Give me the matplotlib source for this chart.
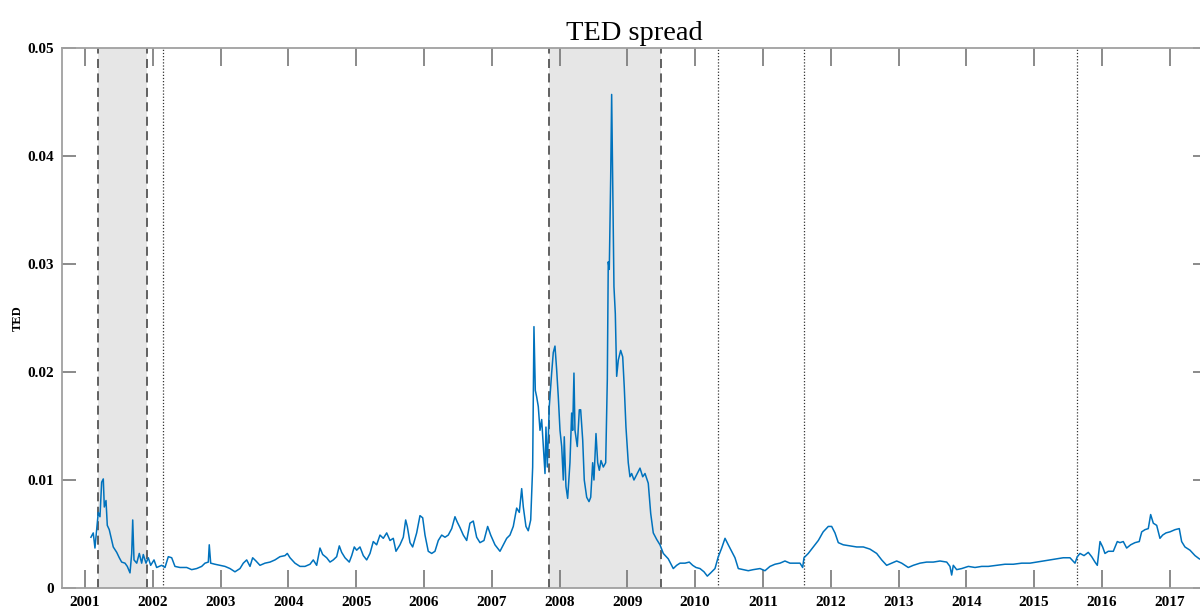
import matplotlib
matplotlib.use("Agg")
import matplotlib.pyplot as plt

# TED spread (decimal year, value)
years = [
    2001.088, 2001.122, 2001.147, 2001.173, 2001.196, 2001.221, 2001.246, 2001.270, 2001.285, 2001.310,
    2001.329, 2001.358, 2001.394, 2001.417, 2001.468, 2001.506, 2001.541, 2001.590, 2001.624, 2001.664,
    2001.689, 2001.704, 2001.723, 2001.763, 2001.801, 2001.836, 2001.860, 2001.900, 2001.934, 2001.969,
    2002.018, 2002.057, 2002.131, 2002.180, 2002.229, 2002.279, 2002.327, 2002.401, 2002.500, 2002.574,
    2002.647, 2002.721, 2002.770, 2002.819, 2002.833, 2002.854, 2002.917, 2002.991, 2003.065, 2003.139,
    2003.212, 2003.286, 2003.335, 2003.385, 2003.434, 2003.473, 2003.522, 2003.581, 2003.655, 2003.729,
    2003.802, 2003.876, 2003.950, 2003.984, 2004.024, 2004.097, 2004.171, 2004.245, 2004.319, 2004.367,
    2004.417, 2004.466, 2004.506, 2004.565, 2004.614, 2004.662, 2004.712, 2004.751, 2004.786, 2004.835,
    2004.898, 2004.934, 2004.972, 2005.007, 2005.056, 2005.105, 2005.155, 2005.204, 2005.252, 2005.302,
    2005.351, 2005.400, 2005.450, 2005.499, 2005.547, 2005.587, 2005.646, 2005.695, 2005.730, 2005.754,
    2005.794, 2005.833, 2005.892, 2005.941, 2005.981, 2006.015, 2006.063, 2006.114, 2006.162, 2006.211,
    2006.261, 2006.310, 2006.358, 2006.409, 2006.457, 2006.491, 2006.531, 2006.580, 2006.630, 2006.678,
    2006.727, 2006.777, 2006.826, 2006.885, 2006.939, 2006.984, 2007.047, 2007.121, 2007.170, 2007.220,
    2007.268, 2007.317, 2007.367, 2007.406, 2007.441, 2007.465, 2007.504, 2007.538, 2007.574, 2007.603,
    2007.622, 2007.642, 2007.662, 2007.686, 2007.711, 2007.736, 2007.760, 2007.785, 2007.799, 2007.819,
    2007.848, 2007.883, 2007.907, 2007.932, 2007.957, 2007.981, 2008.006, 2008.031, 2008.055, 2008.069,
    2008.094, 2008.119, 2008.153, 2008.178, 2008.193, 2008.212, 2008.227, 2008.261, 2008.291, 2008.311,
    2008.341, 2008.364, 2008.400, 2008.434, 2008.459, 2008.488, 2008.507, 2008.537, 2008.562, 2008.586,
    2008.611, 2008.645, 2008.680, 2008.704, 2008.718, 2008.733, 2008.754, 2008.768, 2008.783, 2008.802,
    2008.822, 2008.842, 2008.866, 2008.901, 2008.931, 2008.954, 2008.979, 2009.013, 2009.038, 2009.063,
    2009.097, 2009.137, 2009.186, 2009.226, 2009.260, 2009.308, 2009.344, 2009.382, 2009.432, 2009.481,
    2009.530, 2009.603, 2009.677, 2009.727, 2009.776, 2009.850, 2009.913, 2009.963, 2010.012, 2010.071,
    2010.130, 2010.179, 2010.229, 2010.292, 2010.341, 2010.391, 2010.440, 2010.488, 2010.538, 2010.587,
    2010.636, 2010.709, 2010.783, 2010.857, 2010.956, 2011.029, 2011.103, 2011.177, 2011.251, 2011.324,
    2011.398, 2011.472, 2011.546, 2011.585, 2011.605, 2011.668, 2011.742, 2011.816, 2011.889, 2011.963,
    2012.013, 2012.062, 2012.111, 2012.184, 2012.283, 2012.382, 2012.480, 2012.578, 2012.677, 2012.751,
    2012.824, 2012.898, 2012.972, 2013.046, 2013.143, 2013.217, 2013.316, 2013.414, 2013.512, 2013.611,
    2013.710, 2013.758, 2013.783, 2013.807, 2013.857, 2013.931, 2014.029, 2014.127, 2014.226, 2014.323,
    2014.447, 2014.569, 2014.692, 2014.816, 2014.938, 2015.037, 2015.135, 2015.233, 2015.332, 2015.429,
    2015.528, 2015.602, 2015.636, 2015.676, 2015.735, 2015.798, 2015.848, 2015.897, 2015.931, 2015.971,
    2016.010, 2016.044, 2016.093, 2016.167, 2016.226, 2016.265, 2016.314, 2016.364, 2016.423, 2016.487,
    2016.550, 2016.585, 2016.634, 2016.683, 2016.718, 2016.757, 2016.807, 2016.855, 2016.895, 2016.944,
    2017.003, 2017.077, 2017.140, 2017.175, 2017.224, 2017.298, 2017.372, 2017.435, 2017.520,
]
ted = [
    0.0047, 0.0051, 0.0037, 0.0054, 0.0070, 0.0066, 0.0098, 0.0101, 0.0075, 0.0081,
    0.0058, 0.0054, 0.0044, 0.0038, 0.0033, 0.0028, 0.0024, 0.0023, 0.0020, 0.0014,
    0.0032, 0.0063, 0.0026, 0.0023, 0.0032, 0.0023, 0.0031, 0.0023, 0.0028, 0.0021,
    0.0026, 0.0019, 0.0021, 0.0019, 0.0029, 0.0028, 0.0020, 0.0019, 0.0019, 0.0017,
    0.0018, 0.0020, 0.0023, 0.0024, 0.0040, 0.0023, 0.0022, 0.0021, 0.0020, 0.0018,
    0.0015, 0.0018, 0.0023, 0.0026, 0.0020, 0.0028, 0.0025, 0.0021, 0.0023, 0.0024,
    0.0026, 0.0029, 0.0030, 0.0032, 0.0028, 0.0023, 0.0020, 0.0020, 0.0022, 0.0026,
    0.0021, 0.0037, 0.0031, 0.0028, 0.0024, 0.0026, 0.0029, 0.0039, 0.0033, 0.0028,
    0.0024, 0.0030, 0.0038, 0.0035, 0.0038, 0.0030, 0.0026, 0.0032, 0.0043, 0.0040,
    0.0049, 0.0046, 0.0051, 0.0044, 0.0046, 0.0034, 0.0040, 0.0047, 0.0063, 0.0057,
    0.0042, 0.0038, 0.0051, 0.0067, 0.0065, 0.0049, 0.0034, 0.0032, 0.0034, 0.0044,
    0.0049, 0.0047, 0.0049, 0.0055, 0.0066, 0.0061, 0.0056, 0.0049, 0.0044, 0.0060,
    0.0062, 0.0047, 0.0042, 0.0044, 0.0057, 0.0049, 0.0040, 0.0034, 0.0040, 0.0046,
    0.0049, 0.0057, 0.0074, 0.0070, 0.0092, 0.0075, 0.0057, 0.0053, 0.0063, 0.0112,
    0.0242, 0.0183, 0.0177, 0.0168, 0.0146, 0.0156, 0.0131, 0.0106, 0.0149, 0.0112,
    0.0168, 0.0199, 0.0218, 0.0224, 0.0202, 0.0177, 0.0146, 0.0131, 0.0100, 0.0140,
    0.0094, 0.0083, 0.0116, 0.0162, 0.0146, 0.0199, 0.0146, 0.0131, 0.0165, 0.0165,
    0.0137, 0.0100, 0.0084, 0.0080, 0.0084, 0.0116, 0.0100, 0.0143, 0.0116, 0.0109,
    0.0118, 0.0112, 0.0116, 0.0193, 0.0302, 0.0295, 0.0381, 0.0457, 0.0378, 0.0279,
    0.0254, 0.0196, 0.0211, 0.0220, 0.0214, 0.0186, 0.0149, 0.0116, 0.0103, 0.0106,
    0.0100, 0.0105, 0.0111, 0.0103, 0.0106, 0.0097, 0.0069, 0.0051, 0.0045, 0.0040,
    0.0032, 0.0027, 0.0018, 0.0021, 0.0023, 0.0023, 0.0024, 0.0021, 0.0019, 0.0018,
    0.0015, 0.0011, 0.0014, 0.0018, 0.0029, 0.0037, 0.0046, 0.0040, 0.0034, 0.0028,
    0.0018, 0.0017, 0.0016, 0.0017, 0.0018, 0.0016, 0.0020, 0.0022, 0.0023, 0.0025,
    0.0023, 0.0023, 0.0023, 0.0019, 0.0028, 0.0032, 0.0038, 0.0044, 0.0052, 0.0057,
    0.0057, 0.0051, 0.0042, 0.0040, 0.0039, 0.0038, 0.0038, 0.0036, 0.0032, 0.0026,
    0.0021, 0.0023, 0.0025, 0.0023, 0.0019, 0.0021, 0.0023, 0.0024, 0.0024, 0.0025,
    0.0024, 0.0020, 0.0012, 0.0021, 0.0017, 0.0018, 0.0020, 0.0019, 0.0020, 0.0020,
    0.0021, 0.0022, 0.0022, 0.0023, 0.0023, 0.0024, 0.0025, 0.0026, 0.0027, 0.0028,
    0.0028, 0.0023, 0.0029, 0.0032, 0.0030, 0.0033, 0.0029, 0.0024, 0.0021, 0.0043,
    0.0038, 0.0032, 0.0034, 0.0034, 0.0043, 0.0042, 0.0043, 0.0037, 0.0040, 0.0042,
    0.0043, 0.0052, 0.0054, 0.0055, 0.0068, 0.0060, 0.0058, 0.0046, 0.0049, 0.0051,
    0.0052, 0.0054, 0.0055, 0.0043, 0.0038, 0.0035, 0.0030, 0.0027, 0.0025,
]

# recessions (shaded, dashed edges) and single events (dotted)
recessions = [(2001.19, 2001.91), (2007.85, 2009.49)]
events = [2002.155, 2010.33, 2011.60, 2015.635]

tick_years = list(range(2001, 2018))
y_ticks = [0, 0.01, 0.02, 0.03, 0.04, 0.05]
y_tick_labels = ["0", "0.01", "0.02", "0.03", "0.04", "0.05"]

plt.rcParams['font.family'] = ['Liberation Serif', 'DejaVu Serif']

fig = plt.figure(figsize=(12, 6.11), dpi=100)
ax = fig.add_axes([62 / 1200, 23 / 611, 1145 / 1200, 540 / 611])

for start, end in recessions:
    ax.axvspan(start, end, color='#e6e6e6', lw=0, zorder=0)
    ax.axvline(start, color='#555555', ls=(0, (5, 3)), lw=1.3, zorder=1)
    ax.axvline(end, color='#555555', ls=(0, (5, 3)), lw=1.3, zorder=1)
for ev in events:
    ax.axvline(ev, color='#333333', ls=(0, (1, 1.5)), lw=0.9, zorder=1)

ax.plot(years, ted, color='#0072BD', lw=1.1, zorder=2)

ax.set_xlim(2000.661, 2017.549)
ax.set_ylim(0, 0.05)
ax.set_xticks(tick_years)
ax.set_xticklabels([str(y) for y in tick_years], fontsize=11, fontweight='bold')
ax.set_yticks(y_ticks)
ax.set_yticklabels(y_tick_labels, fontsize=11, fontweight='bold')
ax.tick_params(axis='x', direction='in', length=13, width=1.2, color='#777777',
               pad=6, top=True)
ax.tick_params(axis='y', direction='in', length=10, width=1.2, color='#777777',
               pad=6, right=True)
for sp in ax.spines.values():
    sp.set_color('#a0a0a0')
    sp.set_linewidth(1.3)

ax.set_ylabel('TED', fontsize=9, fontweight='bold')
ax.yaxis.set_label_coords(-0.033, 0.5)
ax.set_title('TED spread', fontsize=20.5, pad=6)

fig.savefig('out.png', dpi=100)
